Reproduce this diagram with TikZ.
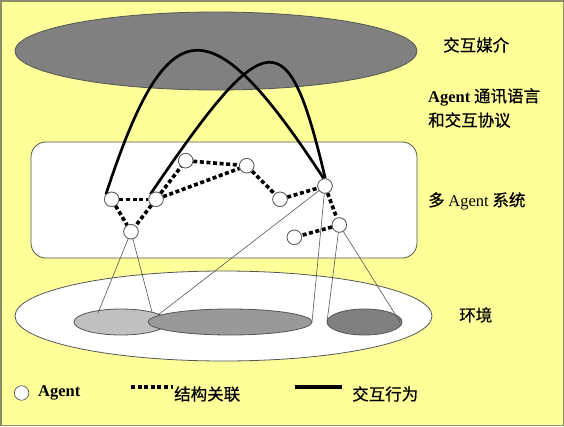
\documentclass[tikz,border=0pt]{standalone}
\usepackage{fontspec}
\setmainfont{Liberation Serif}
\newfontfamily\cjk[FakeBold=0.6]{Noto Sans CJK SC}
\usetikzlibrary{shapes.geometric}
\definecolor{bgyellow}{HTML}{FFFF99}
\definecolor{framegray}{RGB}{140,140,110}
\definecolor{edgegray}{RGB}{85,85,85}
\definecolor{medgray}{HTML}{808080}
\definecolor{lightgray}{HTML}{C0C0C0}
\definecolor{midgray}{HTML}{999999}
\tikzset{
  layer/.style={ellipse, draw=edgegray, line width=0.8pt, inner sep=0pt},
  agent/.style={circle, draw=edgegray, fill=white, line width=0.7pt, minimum size=14.5pt, inner sep=0pt},
  struct/.style={line width=3.6pt, dash pattern=on 4pt off 2.6pt, black},
  interact/.style={line width=2.7pt, black},
  proj/.style={line width=0.6pt, draw=edgegray},
  lbl/.style={anchor=west, inner sep=0pt, font=\fontsize{16.5}{20}\selectfont\cjk},
}
\begin{document}
\begin{tikzpicture}[x=1pt,y=-1pt]
\fill[bgyellow] (0,0) rectangle (564,426);
\useasboundingbox (0,0) rectangle (564,426);
\draw[framegray, line width=1.5pt] (0.75,0.75) rectangle (563.25,425.25);

% layers
\node[layer, fill=medgray, minimum width=402pt, minimum height=78pt] (medium) at (216,51) {};
\node[draw=edgegray, line width=0.8pt, fill=white, rounded corners=15pt, minimum width=386pt, minimum height=116pt, inner sep=0pt] (mas) at (224,200) {};
\node[layer, fill=white, minimum width=417pt, minimum height=90pt] (env) at (223.5,316) {};
\node[layer, fill=lightgray, minimum width=94pt, minimum height=26pt] (e1) at (121,322) {};
\node[layer, fill=midgray, minimum width=164pt, minimum height=26pt] (e2) at (230,322) {};
\node[layer, fill=medgray, minimum width=75pt, minimum height=26pt] (e3) at (364.5,322) {};

% agents
\node[agent] (a1) at (111.7,199.3) {};
\node[agent] (a2) at (156,199.3) {};
\node[agent] (a3) at (131,231.7) {};
\node[agent] (a4) at (185.7,160.7) {};
\node[agent] (a5) at (246.7,165.7) {};
\node[agent] (a6) at (280,199.3) {};
\node[agent] (a7) at (325,186) {};
\node[agent] (a8) at (339.3,225) {};
\node[agent] (a9) at (294.3,237.3) {};

% projection lines
\coordinate (c1) at (98,313);
\coordinate (c2) at (152,312);
\coordinate (c3) at (158,315);
\coordinate (c4) at (312,322);
\coordinate (c5) at (327,322);
\coordinate (c6) at (400,322);
\draw[proj] (a3) -- (c1);
\draw[proj] (a3) -- (c2);
\draw[proj] (a7) -- (c3);
\draw[proj] (a7) -- (c4);
\draw[proj] (a8) -- (c5);
\draw[proj] (a8) -- (c6);

% structural links
\draw[struct] (a1) -- (a2);
\draw[struct] (a1) -- (a3);
\draw[struct] (a2) -- (a3);
\draw[struct] (a2) -- (a4);
\draw[struct] (a2) -- (a5);
\draw[struct] (a4) -- (a5);
\draw[struct] (a5) -- (a6);
\draw[struct] (a6) -- (a7);
\draw[struct] (a7) -- (a8);
\draw[struct] (a8) -- (a9);

% interaction arcs
\draw[interact] (a1.140) .. controls (168,5) and (210,5) .. (a7.100);
\draw[interact] (a2.138) .. controls (268,21) and (288,21) .. (a7.88);

% redraw agents on top
\foreach \n in {a1,a2,a3,a4,a5,a6,a7,a8,a9}{
  \draw[edgegray, line width=0.7pt, fill=white] (\n) circle (7.25pt);
}

% labels
\node[lbl] (t1) at (443,45) {交互媒介};
\node[lbl] (t2) at (428,97) {{\rmfamily\bfseries Agent} 通讯语言};
\node[lbl] (t3) at (428,120) {和交互协议};
\node[lbl] (t4) at (428,201) {多 {\rmfamily Agent} 系统};
\node[lbl] (t5) at (459,315) {环境};

% legend
\node[agent] (la) at (21.6,393) {};
\node[lbl, font=\fontsize{16.5}{20}\selectfont\rmfamily\bfseries] (lta) at (38,393) {Agent};
\coordinate (ls1) at (131,387);
\coordinate (ls2) at (173,387);
\draw[struct, line width=3.6pt] (ls1) -- (ls2);
\node[lbl] (ltb) at (174,394) {结构关联};
\coordinate (li1) at (295,387);
\coordinate (li2) at (342,387);
\draw[interact, line width=3.4pt] (li1) -- (li2);
\node[lbl] (ltc) at (352,394) {交互行为};
\end{tikzpicture}
\end{document}
